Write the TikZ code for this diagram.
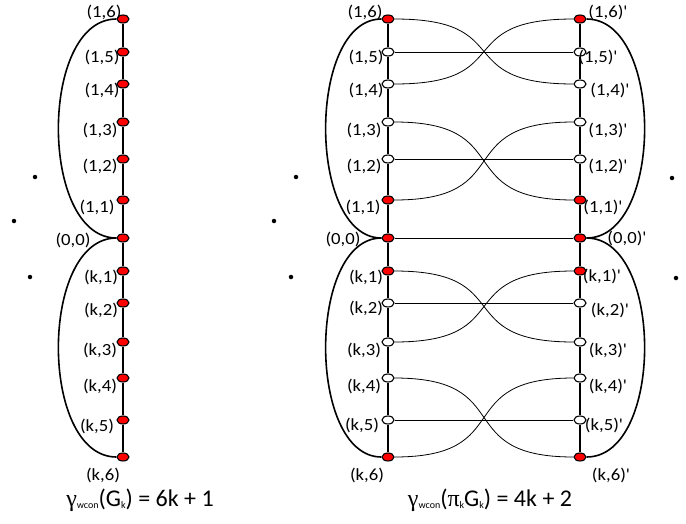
\documentclass[tikz,border=0pt]{standalone}
\usepackage{fontspec}
\setmainfont{Carlito}
\newfontfamily\grk{Liberation Serif}
\newfontfamily\labfont[FakeStretch=1.1]{Carlito}
\usetikzlibrary{shapes.geometric}
\definecolor{cred}{HTML}{FF0000}
\tikzset{
  every picture/.style={line width=0.8pt},
  vtx/.style={ellipse, draw=black, fill=#1, line width=1.1pt, minimum width=12pt, minimum height=8pt, inner sep=0pt},
  vtx/.default=cred,
  spine/.style={line width=1.8pt},
  bulge/.style={line width=1.6pt},
  link/.style={line width=0.8pt},
  lab/.style={font=\labfont\fontsize{17}{17}\selectfont, inner sep=0pt},
  caption/.style={font=\fontsize{24}{24}\selectfont, inner sep=0pt},
  dot/.style={circle, fill=black, inner sep=0pt, minimum size=4.5pt},
}
\newcommand{\smallsub}[1]{\raisebox{-2pt}{\fontsize{10}{10}\selectfont #1}}

\begin{document}
\begin{tikzpicture}[x=1pt, y=-1pt]
  \useasboundingbox (0,0) rectangle (686,523);
  % G_k
  \node[vtx] (g16) at (123,19) {};  \node[vtx] (g15) at (123,52) {};  \node[vtx] (g14) at (123,84) {};
  \node[vtx] (g13) at (123,122) {}; \node[vtx] (g12) at (123,159) {}; \node[vtx] (g11) at (123,200) {};
  \node[vtx] (g00) at (123,238) {};
  \node[vtx] (gk1) at (123,271) {}; \node[vtx] (gk2) at (123,303) {}; \node[vtx] (gk3) at (123,342) {};
  \node[vtx] (gk4) at (123,378) {}; \node[vtx] (gk5) at (123,420) {}; \node[vtx] (gk6) at (123,457) {};
  \draw[spine] (g16) -- (g15) -- (g14) -- (g13) -- (g12) -- (g11) -- (g00) -- (gk1) -- (gk2) -- (gk3) -- (gk4) -- (gk5) -- (gk6);
  \draw[bulge] (g16) .. controls +(-84,0) and +(-84,0) .. (g00);
  \draw[bulge] (g00) .. controls +(-84,0) and +(-84,0) .. (gk6);
  \node[lab] (lg16) at (104,12) {(1,6)};  \node[lab] (lg15) at (102,57) {(1,5)};  \node[lab] (lg14) at (102,90) {(1,4)};
  \node[lab] (lg13) at (100,130) {(1,3)}; \node[lab] (lg12) at (100,166) {(1,2)}; \node[lab] (lg11) at (97,207) {(1,1)};
  \node[lab] (lg00) at (73,240) {(0,0)};
  \node[lab] (lgk1) at (101,277) {(k,1)}; \node[lab] (lgk2) at (101,310) {(k,2)}; \node[lab] (lgk3) at (100,350) {(k,3)};
  \node[lab] (lgk4) at (100,386) {(k,4)}; \node[lab] (lgk5) at (97,426) {(k,5)};  \node[lab] (lgk6) at (103,475) {(k,6)};
  \node[dot] (gd1) at (35,177) {}; \node[dot] (gd2) at (14,221) {}; \node[dot] (gd3) at (30,277) {};
  \node[caption] (capg) at (140,500) {{\grk γ}\smallsub{wcon}(G\smallsub{k}) = 6k + 1};

  % pi_k G_k, left copy
  \node[vtx] (p16) at (388,19) {};       \node[vtx=white] (p15) at (388,52) {};  \node[vtx=white] (p14) at (388,84) {};
  \node[vtx=white] (p13) at (388,122) {}; \node[vtx=white] (p12) at (388,159) {}; \node[vtx] (p11) at (388,200) {};
  \node[vtx] (p00) at (388,238) {};
  \node[vtx] (pk1) at (388,271) {};       \node[vtx=white] (pk2) at (388,303) {}; \node[vtx=white] (pk3) at (388,342) {};
  \node[vtx=white] (pk4) at (388,378) {}; \node[vtx=white] (pk5) at (388,420) {}; \node[vtx] (pk6) at (388,457) {};
  % right copy
  \node[vtx] (q16) at (580,19) {};       \node[vtx=white] (q15) at (580,52) {};  \node[vtx=white] (q14) at (580,84) {};
  \node[vtx=white] (q13) at (580,122) {}; \node[vtx=white] (q12) at (580,159) {}; \node[vtx] (q11) at (580,200) {};
  \node[vtx] (q00) at (580,238) {};
  \node[vtx] (qk1) at (580,271) {};       \node[vtx=white] (qk2) at (580,303) {}; \node[vtx=white] (qk3) at (580,342) {};
  \node[vtx=white] (qk4) at (580,378) {}; \node[vtx=white] (qk5) at (580,420) {}; \node[vtx] (qk6) at (580,457) {};
  \draw[spine] (p16) -- (p15) -- (p14) -- (p13) -- (p12) -- (p11) -- (p00) -- (pk1) -- (pk2) -- (pk3) -- (pk4) -- (pk5) -- (pk6);
  \draw[spine] (q16) -- (q15) -- (q14) -- (q13) -- (q12) -- (q11) -- (q00) -- (qk1) -- (qk2) -- (qk3) -- (qk4) -- (qk5) -- (qk6);
  \draw[bulge] (p16) .. controls +(-81,0) and +(-81,0) .. (p00);
  \draw[bulge] (p00) .. controls +(-81,0) and +(-81,0) .. (pk6);
  \draw[bulge] (q16) .. controls +(84,0) and +(84,0) .. (q00);
  \draw[bulge] (q00) .. controls +(84,0) and +(84,0) .. (qk6);
  % rungs and crossings
  \draw[link] (p15) -- (q15); \draw[link] (p12) -- (q12); \draw[link] (p00) -- (q00);
  \draw[link] (pk2) -- (qk2); \draw[link] (pk5) -- (qk5);
  \draw[link] (p16) .. controls +(130,0) and +(-130,0) .. (q14);
  \draw[link] (p14) .. controls +(130,0) and +(-130,0) .. (q16);
  \draw[link] (p13) .. controls +(130,0) and +(-130,0) .. (q11);
  \draw[link] (p11) .. controls +(130,0) and +(-130,0) .. (q13);
  \draw[link] (pk1) .. controls +(130,0) and +(-130,0) .. (qk3);
  \draw[link] (pk3) .. controls +(130,0) and +(-130,0) .. (qk1);
  \draw[link] (pk4) .. controls +(130,0) and +(-130,0) .. (qk6);
  \draw[link] (pk6) .. controls +(130,0) and +(-130,0) .. (qk4);
  \node[lab] (lp16) at (365,12) {(1,6)};  \node[lab] (lp15) at (366,57) {(1,5)};  \node[lab] (lp14) at (366,90) {(1,4)};
  \node[lab] (lp13) at (364,130) {(1,3)}; \node[lab] (lp12) at (364,166) {(1,2)}; \node[lab] (lp11) at (363,207) {(1,1)};
  \node[lab] (lp00) at (343,239) {(0,0)};
  \node[lab] (lpk1) at (366,277) {(k,1)}; \node[lab] (lpk2) at (366,308) {(k,2)}; \node[lab] (lpk3) at (364,350) {(k,3)};
  \node[lab] (lpk4) at (364,386) {(k,4)}; \node[lab] (lpk5) at (362,425) {(k,5)}; \node[lab] (lpk6) at (367,475) {(k,6)};
  \node[lab] (lq16) at (608,12) {(1,6)'};  \node[lab] (lq15) at (598,57) {(1,5)'};  \node[lab] (lq14) at (610,90) {(1,4)'};
  \node[lab] (lq13) at (608,130) {(1,3)'}; \node[lab] (lq12) at (608,166) {(1,2)'}; \node[lab] (lq11) at (603,207) {(1,1)'};
  \node[lab] (lq00) at (627,238) {(0,0)'};
  \node[lab] (lqk1) at (602,276) {(k,1)'}; \node[lab] (lqk2) at (610,310) {(k,2)'}; \node[lab] (lqk3) at (608,350) {(k,3)'};
  \node[lab] (lqk4) at (608,386) {(k,4)'}; \node[lab] (lqk5) at (604,425) {(k,5)'}; \node[lab] (lqk6) at (611,475) {(k,6)'};
  \node[dot] (pd1) at (296,177) {}; \node[dot] (pd2) at (274,221) {}; \node[dot] (pd3) at (291,277) {};
  \node[dot] (qd1) at (672,178) {}; \node[dot] (qd2) at (676,278) {};
  \node[caption] (capp) at (490,500) {{\grk γ}\smallsub{wcon}({\grk π}\smallsub{k}G\smallsub{k}) = 4k + 2};
\end{tikzpicture}
\end{document}
